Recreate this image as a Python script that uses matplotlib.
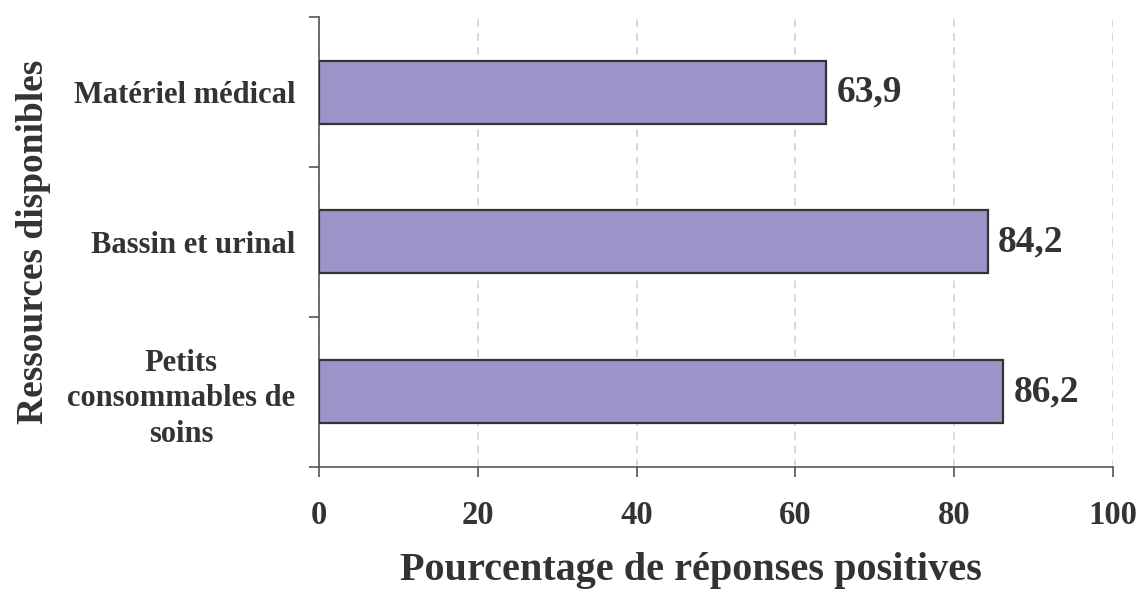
import matplotlib.pyplot as plt
import numpy as np

# ==============================
# Data
# ==============================
categories = ["Petits\nconsommables de\nsoins", "Bassin et urinal", "Matériel médical"]
values = [86.2, 84.2, 63.9]
xticks = [0, 20, 40, 60, 80, 100]

text_color = "#333333"
bar_color = "#9b94c8"

plt.rcParams['font.family'] = ['Liberation Serif', 'DejaVu Serif']
plt.rcParams['font.weight'] = 'bold'

fig = plt.figure(figsize=(11.4, 5.97), dpi=100)
ax = fig.add_axes([0.2798, 0.2178, 0.6965, 0.7537])

y = np.arange(len(categories))
bars = ax.barh(y, values, height=0.42, color=bar_color, edgecolor="#333333",
               linewidth=1.6, zorder=3)

# value labels with comma decimal
for yi, v in zip(y, values):
    ax.text(v + 1.3, yi, f"{v:.1f}".replace(".", ","), va="center", ha="left",
            fontsize=27, fontweight="bold", color=text_color, zorder=4)

ax.set_xlim(0, 100)
ax.set_ylim(-0.5, len(categories) - 0.5)
ax.set_xticks(xticks)
ax.set_xticklabels([str(t) for t in xticks])
ax.set_yticks(y)
ax.set_yticklabels(categories, multialignment="center", linespacing=1.3)
ax.set_yticks(np.arange(-0.5, len(categories)), minor=True)

ax.tick_params(axis="y", which="major", length=0, pad=17, labelsize=22,
               labelcolor=text_color)
ax.tick_params(axis="y", which="minor", length=7.5, width=1.2, color="#555555",
               direction="out")
ax.tick_params(axis="x", length=7.5, width=1.2, color="#555555", pad=16,
               labelsize=23.5, labelcolor=text_color)

ax.grid(axis="x", linestyle=(0, (5, 4)), color="#d4cccc", linewidth=1.1, zorder=0)
ax.set_axisbelow(True)

for s in ["top", "right"]:
    ax.spines[s].set_visible(False)
for s in ["left", "bottom"]:
    ax.spines[s].set_color("#555555")
    ax.spines[s].set_linewidth(1.2)

ax.set_xlabel("Pourcentage de réponses positives", fontsize=29, fontweight="bold",
              color=text_color)
ax.xaxis.set_label_coords(0.4685, -0.19)
ax.set_ylabel("Ressources disponibles", fontsize=27, fontweight="bold",
              color=text_color)
ax.yaxis.set_label_coords(-0.338, 0.5)

fig.savefig("out.png", dpi=100)
